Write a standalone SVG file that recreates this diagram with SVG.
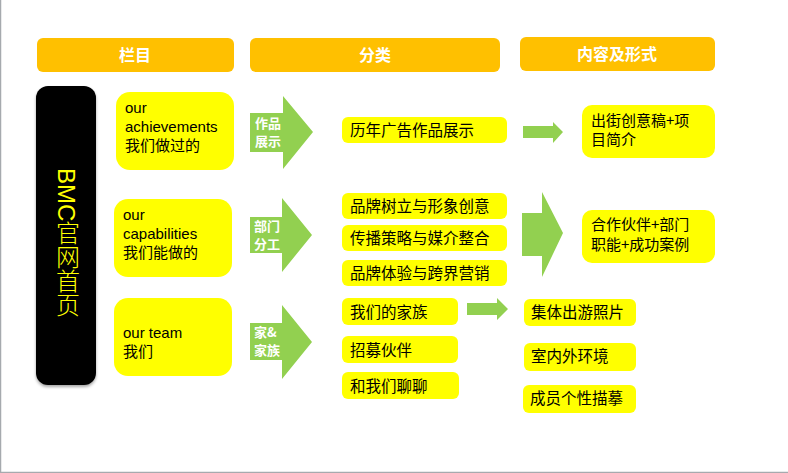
<svg xmlns="http://www.w3.org/2000/svg" width="788" height="473" viewBox="0 0 788 473">
<defs>
<style>
.hdr{fill:#FFC000}
.hdt{fill:#FFFFFF;font-family:"Liberation Sans","Noto Sans CJK SC",sans-serif;font-size:16px;font-weight:bold;text-anchor:middle}
.yb{fill:#FFFF00}
.t{fill:#000000;font-family:"Liberation Sans","Noto Sans CJK SC",sans-serif;font-size:15px}
.tc{fill:#000000;font-family:"Noto Sans CJK SC",sans-serif;font-size:15.5px}
.tr{fill:#000000;font-family:"Noto Sans CJK SC",sans-serif;font-size:15px}
.ga{fill:#92D050}
.al{fill:#FFFFFF;font-family:"Noto Sans CJK SC",sans-serif;font-size:13px;font-weight:bold}
</style>
<filter id="sh" x="-20%" y="-5%" width="140%" height="115%">
<feDropShadow dx="0" dy="2" stdDeviation="1.5" flood-color="#000" flood-opacity="0.35"/>
</filter>
</defs>
<rect x="0" y="0" width="788" height="473" fill="#FFFFFF"/>
<path d="M0.5,0 V472.5 H788" fill="none" stroke="#A6AAAE" stroke-width="1.5"/>

<g id="header-lanmu"><rect class="hdr" x="37" y="38" width="197" height="34" rx="6"/><text class="hdt" x="135" y="61">栏目</text></g>
<g id="header-fenlei"><rect class="hdr" x="250" y="38" width="250" height="34" rx="6"/><text class="hdt" x="375" y="61">分类</text></g>
<g id="header-neirong"><rect class="hdr" x="520" y="37" width="195" height="34" rx="6"/><text class="hdt" x="617" y="60">内容及形式</text></g>

<g id="bmc-home">
<rect x="36" y="86" width="60" height="299" rx="12" fill="#000000" filter="url(#sh)"/>
<text x="66" y="168" fill="#FFFF00" font-family="Liberation Sans,'Noto Sans CJK SC',sans-serif" font-size="24" style="writing-mode:vertical-rl" font-weight="300">BMC官网首页</text>
</g>

<g id="col-achievements"><rect class="yb" x="116" y="92" width="118" height="78" rx="14"/>
<text class="t" x="125" y="113">our</text><text class="t" x="125" y="132">achievements</text><text class="t" x="125" y="151">我们做过的</text></g>
<g id="col-capabilities"><rect class="yb" x="114" y="199" width="118" height="78" rx="14"/>
<text class="t" x="123" y="220">our</text><text class="t" x="123" y="239">capabilities</text><text class="t" x="123" y="258">我们能做的</text></g>
<g id="col-team"><rect class="yb" x="114" y="298" width="118" height="78" rx="14"/>
<text class="t" x="123" y="338">our team</text><text class="t" x="123" y="357">我们</text></g>

<g id="cat-works"><rect class="yb" x="342" y="117" width="165" height="26" rx="6"/><text class="tc" x="350" y="136">历年广告作品展示</text></g>
<g id="cat-brand"><rect class="yb" x="342" y="193" width="165" height="26" rx="6"/><text class="tc" x="350" y="212">品牌树立与形象创意</text></g>
<g id="cat-media"><rect class="yb" x="342" y="225" width="165" height="26" rx="6"/><text class="tc" x="350" y="244">传播策略与媒介整合</text></g>
<g id="cat-experience"><rect class="yb" x="342" y="260" width="165" height="26" rx="6"/><text class="tc" x="350" y="279">品牌体验与跨界营销</text></g>
<g id="cat-family"><rect class="yb" x="342" y="298" width="116" height="27" rx="6"/><text class="tc" x="350" y="318">我们的家族</text></g>
<g id="cat-recruit"><rect class="yb" x="342" y="336" width="116" height="27" rx="6"/><text class="tc" x="350" y="356">招募伙伴</text></g>
<g id="cat-chat"><rect class="yb" x="342" y="372" width="117" height="27" rx="6"/><text class="tc" x="350" y="392">和我们聊聊</text></g>

<g id="out-works"><rect class="yb" x="582" y="105" width="133" height="53" rx="10"/>
<text class="tr"><tspan x="591" y="126">出街创意稿+项</tspan><tspan x="591" y="145">目简介</tspan></text></g>
<g id="out-dept"><rect class="yb" x="582" y="210" width="133" height="53" rx="10"/>
<text class="tr"><tspan x="591" y="230">合作伙伴+部门</tspan><tspan x="591" y="250">职能+成功案例</tspan></text></g>
<g id="out-trip"><rect class="yb" x="524" y="299" width="112" height="27" rx="6"/><text class="tc" x="531" y="318">集体出游照片</text></g>
<g id="out-env"><rect class="yb" x="524" y="343" width="112" height="28" rx="6"/><text class="tc" x="531" y="362">室内外环境</text></g>
<g id="out-member"><rect class="yb" x="523" y="385" width="113" height="28" rx="6"/><text class="tc" x="530" y="404">成员个性描摹</text></g>

<g id="connectors">
<g id="arrow-works"><polygon class="ga" points="250,113 283,113 283,96 313,132 283,169 283,152 250,152"/>
<text class="al"><tspan x="255" y="128">作品</tspan><tspan x="255" y="146">展示</tspan></text></g>
<g id="arrow-dept"><polygon class="ga" points="250,217 282,217 282,198 312,235 282,272 282,253 250,253"/>
<text class="al"><tspan x="254" y="231">部门</tspan><tspan x="254" y="249">分工</tspan></text></g>
<g id="arrow-family"><polygon class="ga" points="250,323 282,323 282,305 312,342 282,379 282,360 250,360"/>
<text class="al"><tspan x="254" y="337">家&amp;</tspan><tspan x="254" y="355">家族</tspan></text></g>
<polygon class="ga" points="523,126 553,126 553,122 563,132 553,143 553,138 523,138"/>
<polygon class="ga" points="522,213 542,213 542,192 563,233 542,277 542,256 522,256"/>
<polygon class="ga" points="467,303 497,303 497,298 508,309 497,320 497,315 467,315"/>
</g>
</svg>
